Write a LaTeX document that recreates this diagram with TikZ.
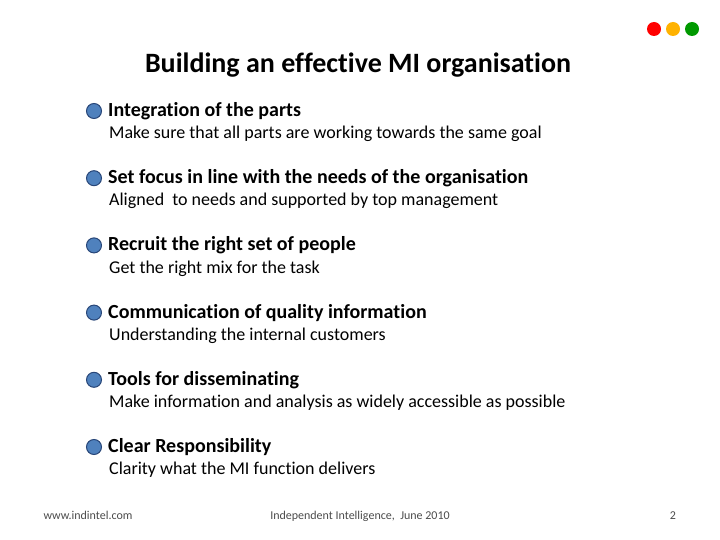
\documentclass[tikz,border=0pt]{standalone}
\usepackage{fontspec}
\setmainfont[Ligatures=NoCommon]{Carlito}
\definecolor{bfill}{RGB}{79,129,189}
\definecolor{bdraw}{RGB}{40,70,120}
\begin{document}
\begin{tikzpicture}[x=1pt,y=-1pt,
 head/.style={anchor=west,inner sep=0,font=\fontsize{20}{22}\selectfont\bfseries},
 sub/.style={anchor=west,inner sep=0,font=\fontsize{18}{20}\selectfont},
 foot/.style={inner sep=0,anchor=base,font=\fontsize{12}{14}\selectfont,text=black!70},
 bul/.style={circle,inner sep=0,minimum size=15,fill=bfill,draw=bdraw,line width=1}]
\useasboundingbox (0,0) rectangle (720,540);
\fill[white] (0,0) rectangle (720,540);
\node[circle,fill=red,minimum size=14,inner sep=0] (r) at (654,29) {};
\node[circle,fill=orange!60!yellow,minimum size=14,inner sep=0] (o) at (673,29) {};
\node[circle,fill=green!60!black,minimum size=14,inner sep=0] (g) at (692,29) {};
\node[inner sep=0,font=\fontsize{28}{32}\selectfont\bfseries] (t) at (358,65) {Building an effective MI organisation};
\foreach \i/\h/\s in {0/Integration of the parts/Make sure that all parts are working towards the same goal,
 1/Set focus in line with the needs of the organisation/Aligned\ \ to needs and supported by top management,
 2/Recruit the right set of people/Get the right mix for the task,
 3/Communication of quality information/Understanding the internal customers,
 4/Tools for disseminating/Make information and analysis as widely accessible as possible,
 5/Clear Responsibility/Clarity what the MI function delivers}{
 \node[bul] (b\i) at (94,111+67.2*\i) {};
 \node[head] (h\i) at (108,111+67.2*\i) {\h};
 \node[sub] (s\i) at (109,134+67.2*\i) {\s};
}
\node[foot] (f1) at (88,519) {www.indintel.com};
\node[foot] (f2) at (360,519) {Independent Intelligence,\ \ June 2010};
\node[foot] (f3) at (673,519) {2};
\end{tikzpicture}
\end{document}
